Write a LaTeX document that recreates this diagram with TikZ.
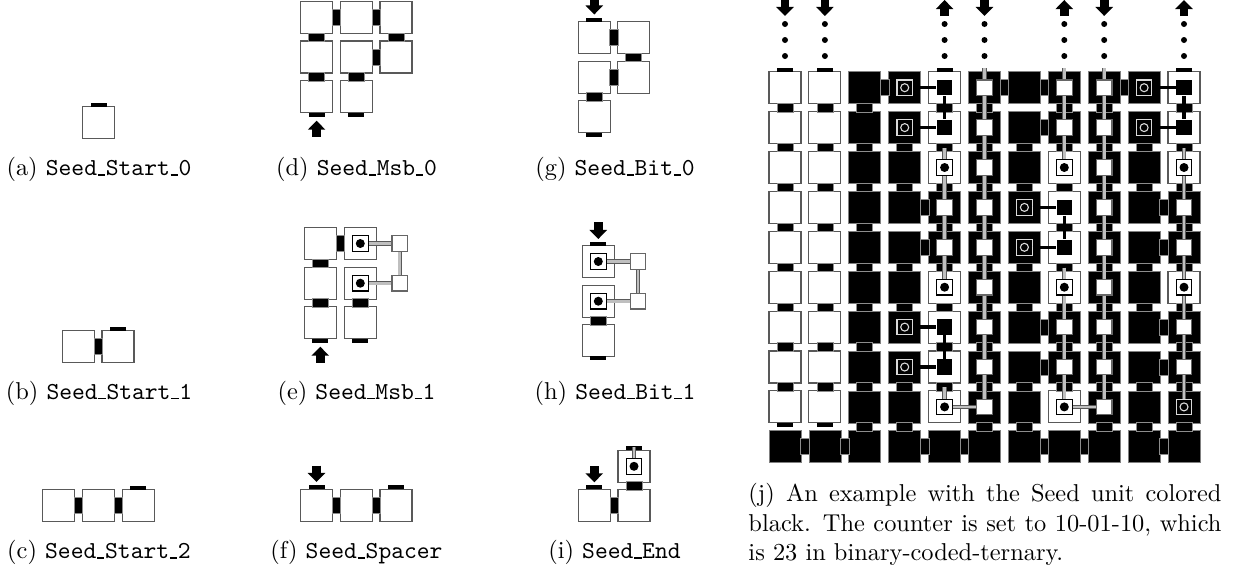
\documentclass[tikz,border=0pt]{standalone}
\usetikzlibrary{arrows.meta,positioning,calc}
\newcommand{\unitpx}{.41pt}
\newcommand{\us}{\kern.3pt\vbox{\hrule width3pt height.5pt}\kern.3pt}
\newcommand{\hbondat}[2]{\node[hbond] (#1#2) at ($(#1)!.5!(#2)$) {};}
\newcommand{\vbondat}[2]{\node[vbond] (#1#2) at ($(#1)!.5!(#2)$) {};}
\newcommand{\stubup}[1]{\node[stub, above=0pt of #1] (#1-up) {};}
\newcommand{\stubdn}[1]{\node[stub, below=0pt of #1] (#1-dn) {};}
\newcommand{\blockarrow}[3]{\coordinate (#1-a) at #2; \coordinate (#1-b) at #3; \draw[blockline] (#1-a) -- (#1-b);}
\newcommand{\freeend}[2]{\coordinate (#1) at ([yshift=3.5*\unitpx]#2.north);}
\tikzset{
  tilew/.style={draw=black!65, fill=white, line width=.45pt, minimum size=32*\unitpx, inner sep=0pt, outer sep=0pt},
  tilek/.style={tilew, draw=black!50, line width=.3pt, fill=black},
  hbond/.style={draw=black!45, fill=black, line width=.3pt, minimum width=8.5*\unitpx, minimum height=16*\unitpx, inner sep=0pt},
  vbond/.style={hbond, minimum width=16*\unitpx, minimum height=8.5*\unitpx},
  stub/.style={fill=black, minimum width=16*\unitpx, minimum height=4*\unitpx, inner sep=0pt, outer sep=0pt},
  inwhite/.style={draw=black!60, fill=white, line width=.45pt, minimum size=15.5*\unitpx, inner sep=0pt},
  inblack/.style={inwhite, draw=none, fill=black},
  insq/.style={inwhite, draw=black},
  inhollow/.style={inwhite, draw=black!15, fill=black},
  dotk/.style={circle, fill=black, minimum size=9*\unitpx, inner sep=0pt},
  doth/.style={circle, draw=black!15, fill=black, line width=.45pt, minimum size=8*\unitpx, inner sep=0pt},
  seeddot/.style={circle, fill=black, minimum size=6*\unitpx, inner sep=0pt},
  graywire/.style={draw=black!65, line width=.3pt, double=black!25, double distance=2.8*\unitpx},
  blackwire/.style={draw=black, line width=3.5*\unitpx},
  blockline/.style={line width=8.7*\unitpx, -{Triangle[width=7pt,length=3.7pt]}},
  capt/.style={anchor=base, inner sep=0pt}
}
\begin{document}
\begin{tikzpicture}[x=\unitpx, y=-\unitpx]
\useasboundingbox (0,0) rectangle (1238,571);
% small tiles
\foreach \n/\x/\y in {a0/98.5/122.5, b0/78.3/346.5, b1/118/346.5, c0/58.7/505.7, c1/98.5/505.7, c2/138.2/505.7,
  d00/316.5/17.5, d10/356.3/17.5, d20/396/17.5, d01/316.5/57, d11/356.3/57, d21/396/57, d02/316.5/96.7, d12/356.3/96.7,
  e00/320.3/243.5, e10/360.3/243.5, e01/320.3/283.2, e11/360.3/283.2, e02/320.3/322.5, e12/360.3/322.5,
  f0/316.5/505.3, f1/356.3/505.3, f2/396/505.3,
  g00/594.3/37.5, g10/633.7/37.5, g01/594.3/77.2, g11/633.7/77.2, g02/594.3/116.5,
  h0/598.3/261.5, h1/598.3/301.2, h2/598.3/340.3,
  i0/594.3/505.3, i1/634/505.3, i2/634/466.3}
  \node[tilew] (\n) at (\x,\y) {};
\foreach \a/\b in {b0/b1, c0/c1, c1/c2, d00/d10, d10/d20, d11/d21, e00/e10, f0/f1, f1/f2, g00/g10, g01/g11, i0/i1}
  {\hbondat{\a}{\b}}
\foreach \a/\b in {d00/d01, d01/d02, d20/d21, d11/d12, e00/e01, e01/e02, e11/e12, g10/g11, g01/g02, h1/h2, i2/i1}
  {\vbondat{\a}{\b}}
\foreach \a in {a0, b1, c2, f0, f2, g00, h0, i0, i2} {\stubup{\a}}
\foreach \a in {d02, d12, e02, e12, g02, h2} {\stubdn{\a}}
% cells with a wire
\foreach \n/\t in {e10/ie0, e11/ie1, h0/ih0, h1/ih1, i2/ii2} {
  \node[insq] (\t) at (\n) {};
  \node[dotk] (\t-dot) at (\n) {};
}
\node[inwhite] (es0) at (399.7,243.5) {};
\node[inwhite] (es1) at (399.7,283.2) {};
\node[inwhite] (hs0) at (638,261.5) {};
\node[inwhite] (hs1) at (638,301.2) {};
\draw[graywire] (ie0) -- (es0);
\draw[graywire] (ie1) -- (es1);
\draw[graywire] (es0) -- (es1);
\draw[graywire] (ih0) -- (hs0);
\draw[graywire] (ih1) -- (hs1);
\draw[graywire] (hs0) -- (hs1);
\freeend{ii2-top}{i2}
\draw[graywire] (ii2-top) -- (ii2);
\blockarrow{da}{(316.6,136.7)}{(316.6,120.7)}
\blockarrow{ea}{(320.3,362.7)}{(320.3,346.7)}
\blockarrow{fa}{(316.5,465.7)}{(316.5,482)}
\blockarrow{ga}{(594.3,-1.5)}{(594.3,14.5)}
\blockarrow{ha}{(598.3,222.3)}{(598.3,239)}
\blockarrow{ia}{(594.3,466)}{(594.3,482.3)}
% captions
\node[capt] (capa) at (99,175.5) {(a) \texttt{Seed\us Start\us 0}};
\node[capt] (capb) at (99,399) {(b) \texttt{Seed\us Start\us 1}};
\node[capt] (capc) at (99,558.5) {(c) \texttt{Seed\us Start\us 2}};
\node[capt] (capd) at (356.5,175.5) {(d) \texttt{Seed\us Msb\us 0}};
\node[capt] (cape) at (356.5,399) {(e) \texttt{Seed\us Msb\us 1}};
\node[capt] (capf) at (356.5,558.5) {(f) \texttt{Seed\us Spacer}};
\node[capt] (capg) at (615,175.5) {(g) \texttt{Seed\us Bit\us 0}};
\node[capt] (caph) at (615,399) {(h) \texttt{Seed\us Bit\us 1}};
\node[capt] (capi) at (614.5,558.5) {(i) \texttt{Seed\us End}};
\node[anchor=north west, inner sep=0pt, text width=473*\unitpx, align=justify] (capj) at (748,483)
  {(j) An example with the Seed unit colored\linebreak black. The counter is set to 10-01-10, which\linebreak is 23 in binary-coded-ternary.};
% big example
\foreach \c/\fills in {0/{w,w,w,w,w,w,w,w,w,k}, 1/{w,w,w,w,w,w,w,w,w,k}, 2/{k,k,k,k,k,k,k,k,k,k},
  3/{k,k,k,k,k,k,k,k,k,k}, 4/{w,w,w,k,k,w,w,w,w,k}, 5/{k,k,k,k,k,k,k,k,k,k},
  6/{k,k,k,k,k,k,k,k,k,k}, 7/{k,k,w,w,w,w,k,k,w,k}, 8/{k,k,k,k,k,k,k,k,k,k},
  9/{k,k,k,k,k,k,k,k,k,k}, 10/{w,w,w,k,k,w,k,k,k,k}}
  \foreach \f [count=\r from 0] in \fills
    \node[tile\f] (t-\c-\r) at ({785+39.9*\c},{87.7+39.9*\r}) {};
\foreach \c/\rows in {0/{0,...,7}, 1/{0,...,7}, 2/{0,...,8}, 3/{1,2,4,5,7,8}, 4/{0,...,7}, 5/{0,...,8},
  6/{1,2,4,5,7,8}, 7/{0,...,7}, 8/{0,...,8}, 9/{1,2,4,5,7,8}, 10/{0,...,8}}
  \foreach \r in \rows {
    \pgfmathtruncatemacro{\n}{\r+1}
    \vbondat{t-\c-\r}{t-\c-\n}
  }
\foreach \c/\r in {0/9, 1/9, 3/9, 4/9, 6/9, 7/9, 9/9, 2/0, 3/3, 3/4, 5/0, 6/0, 6/1, 6/6, 6/7, 8/0, 9/3, 9/4, 9/6, 9/7} {
  \pgfmathtruncatemacro{\n}{\c+1}
  \hbondat{t-\c-\r}{t-\n-\r}
}
\foreach \a in {t-0-0, t-1-0, t-4-0, t-10-0} {\stubup{\a}}
\foreach \a in {t-0-8, t-1-8} {\stubdn{\a}}
\foreach \c/\rows in {4/{3,4}, 5/{0,...,8}, 7/{0,1,6,7}, 8/{0,...,8}, 10/{3,4,6,7}}
  \foreach \r in \rows {\node[inwhite] (i-\c-\r) at (t-\c-\r) {};}
\foreach \c/\rows in {4/{0,1,6,7}, 7/{3,4}, 10/{0,1}}
  \foreach \r in \rows {\node[inblack] (i-\c-\r) at (t-\c-\r) {};}
\foreach \c/\rows in {4/{2,5,8}, 7/{2,5,8}, 10/{2,5}}
  \foreach \r in \rows {
    \node[insq] (i-\c-\r) at (t-\c-\r) {};
    \node[dotk] (o-\c-\r) at (t-\c-\r) {};
  }
\foreach \c/\rows in {3/{0,1,6,7}, 6/{3,4}, 9/{0,1}, 10/{8}}
  \foreach \r in \rows {
    \node[inhollow] (i-\c-\r) at (t-\c-\r) {};
    \node[doth] (o-\c-\r) at (t-\c-\r) {};
  }
% wires
\foreach \c/\rows in {4/{2,3,4}, 5/{0,...,7}, 7/{0,1,5,6,7}, 8/{0,...,7}, 10/{2,...,7}}
  \foreach \r in \rows {
    \pgfmathtruncatemacro{\n}{\r+1}
    \draw[graywire] (i-\c-\r) -- (i-\c-\n);
  }
\foreach \c/\r in {4/2, 4/8, 5/0, 7/0, 7/5, 8/0, 10/2} {
  \freeend{f-\c-\r}{t-\c-\r}
  \draw[graywire] (f-\c-\r) -- (i-\c-\r);
}
\draw[graywire] (i-4-8) -- (i-5-8);
\draw[graywire] (i-7-8) -- (i-8-8);
\foreach \c/\r in {4/0, 4/6, 7/3, 10/0} {
  \pgfmathtruncatemacro{\n}{\r+1}
  \draw[blackwire] (i-\c-\r) -- (i-\c-\n);
}
\foreach \c/\r in {3/0, 3/1, 3/6, 3/7, 6/3, 6/4, 9/0, 9/1} {
  \pgfmathtruncatemacro{\n}{\c+1}
  \draw[blackwire] (i-\c-\r) -- (i-\n-\r);
}
% arrows and dots on top
\foreach \c in {0, 1, 5, 8} {\blockarrow{top\c}{({785+39.9*\c},0)}{({785+39.9*\c},16)}}
\foreach \c in {4, 7, 10} {\blockarrow{top\c}{({785+39.9*\c},16)}{({785+39.9*\c},0)}}
\foreach \c in {0, 1, 4, 5, 7, 8, 10}
  \foreach \y in {24, 40, 56}
    \node[seeddot] (dot-\c-\y) at ({785+39.9*\c},\y) {};
\end{tikzpicture}
\end{document}
